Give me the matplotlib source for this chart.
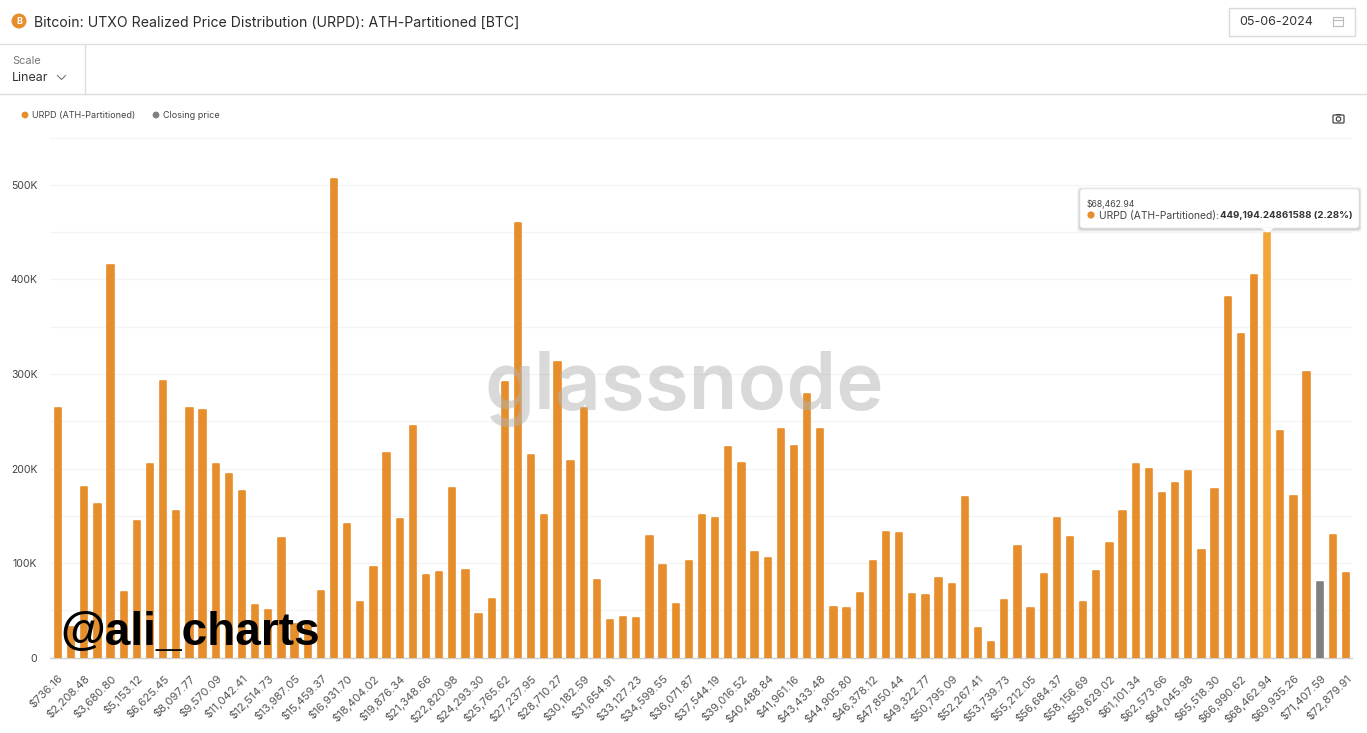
import matplotlib
matplotlib.use("Agg")
import matplotlib.pyplot as plt
from matplotlib.patches import Circle, FancyBboxPatch, Polygon, Rectangle

plt.rcParams['font.family'] = ['Inter', 'DejaVu Sans']

# one bar per price bucket, every second one gets a label
tick_labels = [
    "$736.16", "$2,208.48", "$3,680.80", "$5,153.12", "$6,625.45", "$8,097.77", "$9,570.09",
    "$11,042.41", "$12,514.73", "$13,987.05", "$15,459.37", "$16,931.70", "$18,404.02",
    "$19,876.34", "$21,348.66", "$22,820.98", "$24,293.30", "$25,765.62", "$27,237.95",
    "$28,710.27", "$30,182.59", "$31,654.91", "$33,127.23", "$34,599.55", "$36,071.87",
    "$37,544.19", "$39,016.52", "$40,488.84", "$41,961.16", "$43,433.48", "$44,905.80",
    "$46,378.12", "$47,850.44", "$49,322.77", "$50,795.09", "$52,267.41", "$53,739.73",
    "$55,212.05", "$56,684.37", "$58,156.69", "$59,629.02", "$61,101.34", "$62,573.66",
    "$64,045.98", "$65,518.30", "$66,990.62", "$68,462.94", "$69,935.26", "$71,407.59",
    "$72,879.91",
]
urpd = [
    264, 32, 180, 162, 415, 69, 144, 205, 293, 155,
    264, 262, 205, 194, 176, 56, 50, 127, 36, 35,
    70, 506, 141, 59, 96, 216, 147, 245, 87, 91,
    179, 93, 46, 62, 292, 460, 214, 151, 313, 208,
    264, 82, 40, 43, 42, 129, 98, 57, 102, 151,
    148, 223, 206, 112, 105, 242, 224, 279, 242, 53,
    52, 68, 102, 133, 132, 67, 66, 84, 78, 170,
    31, 16, 61, 118, 52, 88, 148, 128, 59, 92,
    121, 155, 205, 200, 174, 185, 197, 114, 178, 381,
    342, 405, 449.194, 240, 171, 302, 80, 130, 90,
]
highlight_idx = 92
closing_idx = 96

y_ticks = [0, 100, 200, 300, 400, 500]
y_labels = ["0", "100K", "200K", "300K", "400K", "500K"]
y_grid = [50, 100, 150, 200, 250, 300, 350, 400, 450, 500, 550]

ORANGE = "#E68E2C"
LIGHT = "#F2A63A"
GRAY = "#808080"
LINE = "#DEDEDE"

W, H = 1367, 733


def px(size):
    return size * 0.72


fig = plt.figure(figsize=(W / 100, H / 100), dpi=100)

# chart area, placed in pixels
left, right, top, bottom = 50, 1352, 137.6, 657.6
ax = fig.add_axes([left / W, 1 - bottom / H, (right - left) / W, (bottom - top) / H])

x = list(range(1, len(urpd) + 1))
colors = [ORANGE] * len(urpd)
colors[highlight_idx] = LIGHT
colors[closing_idx] = GRAY
bars = ax.bar(x, urpd, width=0.48, color=colors, edgecolor=colors, linewidth=1.2, zorder=3)
for b in bars:
    b.set_joinstyle('round')

ax.set_xlim(0.39, 99.46)
ax.set_ylim(0, 550)
ax.set_xticks(x[::2])
ax.set_xticklabels(tick_labels, rotation=45, ha='right', rotation_mode='anchor',
                   fontsize=px(11.3), color="#555555")
ax.set_yticks(y_ticks)
ax.set_yticklabels(y_labels, fontsize=px(10.5), color="#444444")
ax.tick_params(axis='x', length=0, pad=11)
ax.tick_params(axis='y', length=0, pad=9)
for g in y_grid:
    ax.axhline(g, color="#F4F4F4", lw=0.9, zorder=0)
for s in ['top', 'right', 'left']:
    ax.spines[s].set_visible(False)
ax.spines['bottom'].set_color("#D0D0D0")
ax.spines['bottom'].set_linewidth(1.0)
ax.patch.set_alpha(0)

# page chrome on top, same pixel coordinates as the screenshot
ov = fig.add_axes([0, 0, 1, 1], zorder=5)
ov.set_xlim(0, W)
ov.set_ylim(H, 0)
ov.axis('off')
ov.patch.set_alpha(0)

ov.plot([0, W], [44, 44], color=LINE, lw=1)
ov.plot([0, W], [94, 94], color=LINE, lw=1)
ov.plot([84.5, 84.5], [44, 94], color=LINE, lw=1)

ov.add_patch(Circle((19, 21), 7.5, color=ORANGE, lw=0))
ov.text(19, 21.5, "B", color="white", fontsize=px(9), fontweight='bold', ha='center', va='center')
ov.text(33.5, 22.5, "Bitcoin: UTXO Realized Price Distribution (URPD): ATH-Partitioned [BTC]",
        fontsize=px(14.06), color="#2b2b2b", va='center')

ov.text(12, 60.5, "Scale", fontsize=px(11), color="#777777", va='center')
ov.text(12, 78, "Linear", fontsize=px(12.5), color="#333333", va='center')
ov.plot([57.5, 61.5, 65.5], [75.5, 79.5, 75.5], color="#777777", lw=0.8)

# date box
ov.add_patch(Rectangle((1228.5, 7.5), 126, 28, fc="white", ec="#DADADA", lw=1))
ov.text(1239, 22, "05-06-2024", fontsize=px(12.5), color="#333333", va='center')
ov.add_patch(Rectangle((1332.5, 17), 10, 9, fc="none", ec="#BBBBBB", lw=0.8))
ov.plot([1332.5, 1342.5], [19.5, 19.5], color="#BBBBBB", lw=0.8)

# legend
ov.add_patch(Circle((25, 115), 3.4, color=ORANGE, lw=0))
ov.text(32, 115.5, "URPD (ATH-Partitioned)", fontsize=px(9.05), color="#444444", va='center')
ov.add_patch(Circle((156, 115), 3.4, color=GRAY, lw=0))
ov.text(163, 115.5, "Closing price", fontsize=px(9.05), color="#444444", va='center')

# camera icon
ov.add_patch(FancyBboxPatch((1333, 115), 11, 8, boxstyle="round,pad=0,rounding_size=1",
                            fc="white", ec="#444444", lw=0.9))
ov.add_patch(Circle((1338.5, 119), 2.2, fc="white", ec="#444444", lw=0.9))
ov.add_patch(Rectangle((1336, 113.5), 5, 1.5, fc="#444444", lw=0))

# watermarks
ov.text(684, 389, "glassnode", fontsize=px(80), color="#B4B4B4", alpha=0.5, ha='center', va='center',
        fontweight='semibold')
ov.text(60, 633, "@ali_charts", fontsize=px(46), color="black", ha='left', va='center',
        fontweight='bold', family=['Liberation Sans', 'DejaVu Sans'])

# tooltip
for off, a in [(3, 0.04), (2, 0.06), (1, 0.09)]:
    ov.add_patch(FancyBboxPatch((1080 - off, 189 + 1 - off), 279 + 2 * off, 39 + 2 * off,
                                boxstyle="round,pad=0,rounding_size=3", fc="black", alpha=a, lw=0))
ov.add_patch(FancyBboxPatch((1080, 189), 279, 39, boxstyle="round,pad=0,rounding_size=3",
                            fc="white", ec="#E8E8E8", lw=0.5))
ov.add_patch(Polygon([[1261, 228], [1267.5, 232.5], [1274, 228]], fc="white", ec="none"))
ov.text(1087, 204, "$68,462.94", fontsize=px(8.7), color="#444444", va='center')
ov.add_patch(Circle((1091, 215), 3.6, color=ORANGE, lw=0))
ov.text(1099, 215.5, "URPD (ATH-Partitioned):", fontsize=px(10.3), color="#444444", va='center')
ov.text(1219.5, 215.5, "449,194.24861588 (2.28%)", fontsize=px(9.7), color="#333333",
        fontweight='bold', va='center')

fig.savefig("out.png", dpi=100)
